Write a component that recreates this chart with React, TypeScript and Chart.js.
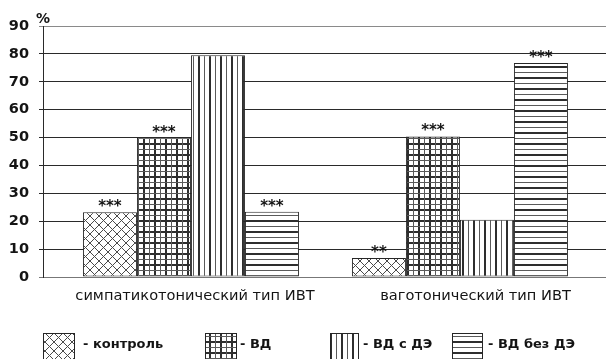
import React, { useEffect, useRef } from 'react';
import { Chart, registerables } from 'chart.js';

Chart.register(...registerables);

// Categories and series values (%)
const categories = ['симпатикотонический тип ИВТ', 'ваготонический тип ИВТ'];
const seriesNames = ['- контроль', '- ВД', '- ВД с ДЭ', '- ВД без ДЭ'];
const control = [23.2, 6.8];
const vd = [50, 50.4];
const vdWithDe = [79.5, 20.5];
const vdWithoutDe = [23.4, 76.7];

// Significance marks shown above the bars
const controlMarks = ['***', '**'];
const vdMarks = ['***', '***'];
const vdWithDeMarks = ['', ''];
const vdWithoutDeMarks = ['***', '***'];

// Value axis
const yMin = 0;
const yMax = 90;
const yStep = 10;
const yUnit = '%';

const FONT = "'DejaVu Sans', 'Liberation Sans', Arial, sans-serif";
const INK = '#141414';

function makePattern(draw: (c: CanvasRenderingContext2D) => void, w: number, h: number): CanvasPattern | string {
  const cv = document.createElement('canvas');
  cv.width = w;
  cv.height = h;
  const c = cv.getContext('2d');
  if (!c) return '#fff';
  c.fillStyle = '#ffffff';
  c.fillRect(0, 0, w, h);
  draw(c);
  const p = c.createPattern(cv, 'repeat');
  return p || '#fff';
}

function crossHatch() {
  return makePattern((c) => {
    c.strokeStyle = '#4a4a4a';
    c.lineWidth = 1;
    c.beginPath();
    c.moveTo(0, 0);
    c.lineTo(9, 9);
    c.moveTo(9, 0);
    c.lineTo(0, 9);
    c.stroke();
  }, 9, 9);
}

function squareGrid() {
  return makePattern((c) => {
    c.fillStyle = '#2e2e2e';
    c.fillRect(0, 0, 2, 11);
    c.fillRect(0, 0, 11, 2);
    c.fillStyle = '#5a5a5a';
    c.fillRect(6, 0, 1, 11);
    c.fillRect(0, 6, 11, 1);
  }, 11, 11);
}

function verticalStripes() {
  return makePattern((c) => {
    c.fillStyle = '#2e2e2e';
    c.fillRect(0, 0, 2, 11);
    c.fillStyle = '#5a5a5a';
    c.fillRect(6, 0, 1, 11);
  }, 11, 11);
}

function horizontalStripes() {
  return makePattern((c) => {
    c.fillStyle = '#2e2e2e';
    c.fillRect(0, 0, 11, 2);
    c.fillStyle = '#5a5a5a';
    c.fillRect(0, 6, 11, 1);
  }, 11, 11);
}

// Slight shift of the category captions relative to the bar groups
const captionShift = [0.015, 0.058];

export default function App() {
  const canvasRef = useRef<HTMLCanvasElement | null>(null);

  useEffect(() => {
    document.body.style.margin = '0';
    const canvas = canvasRef.current;
    if (!canvas) return;

    const fills = [crossHatch(), squareGrid(), verticalStripes(), horizontalStripes()];
    const values = [control, vd, vdWithDe, vdWithoutDe];
    const marks = [controlMarks, vdMarks, vdWithDeMarks, vdWithoutDeMarks];

    const datasets = values.map((vals, i) => ({
      label: seriesNames[i],
      data: vals.map((v, j) => ({ x: j, y: v })),
      backgroundColor: fills[i] as any,
      borderColor: '#262626',
      borderWidth: 1,
      borderSkipped: false as const,
      categoryPercentage: 0.803,
      barPercentage: 1,
    }));

    const marksPlugin = {
      id: 'marks',
      afterDatasetsDraw(chart: any) {
        const ctx = chart.ctx;
        ctx.save();
        ctx.fillStyle = INK;
        ctx.font = `bold 15px ${FONT}`;
        ctx.textAlign = 'center';
        ctx.textBaseline = 'alphabetic';
        chart.data.datasets.forEach((_: any, di: number) => {
          const meta = chart.getDatasetMeta(di);
          meta.data.forEach((bar: any, j: number) => {
            const t = marks[di][j];
            if (t) ctx.fillText(t, bar.x, bar.y - 1);
          });
        });
        ctx.restore();
      },
    };

    const legendBoxes = [
      { box: 43, w: 32, text: 83 },
      { box: 205, w: 32, text: 240 },
      { box: 330, w: 29, text: 363 },
      { box: 452, w: 31, text: 488 },
    ];

    const extrasPlugin = {
      id: 'extras',
      afterDraw(chart: any) {
        const ctx = chart.ctx;
        ctx.save();
        // unit caption above the value axis
        ctx.fillStyle = INK;
        ctx.font = `bold 14px ${FONT}`;
        ctx.textAlign = 'left';
        ctx.textBaseline = 'alphabetic';
        ctx.fillText(yUnit, chart.chartArea.left - 7, 23);

        // legend
        chart.data.datasets.forEach((ds: any, i: number) => {
          const it = legendBoxes[i];
          ctx.fillStyle = ds.backgroundColor;
          ctx.fillRect(it.box, 333, it.w, 27);
          ctx.strokeStyle = '#262626';
          ctx.lineWidth = 1;
          ctx.strokeRect(it.box + 0.5, 333.5, it.w - 1, 27);
          ctx.fillStyle = INK;
          ctx.font = `bold 13px ${FONT}`;
          ctx.textBaseline = 'middle';
          ctx.fillText(ds.label, it.text, 345);
        });
        ctx.restore();
      },
    };

    const chart = new Chart(canvas, {
      type: 'bar',
      data: { datasets: datasets as any },
      plugins: [marksPlugin, extrasPlugin],
      options: {
        responsive: false,
        animation: false,
        devicePixelRatio: 1,
        layout: { padding: { top: 26, left: 0, right: 0, bottom: 0 } },
        plugins: {
          legend: { display: false },
          tooltip: { enabled: false },
          title: { display: false },
        },
        scales: {
          x: {
            type: 'linear',
            min: -0.55,
            max: 1.543,
            offset: false,
            grid: { display: false, drawTicks: false, offset: false },
            border: { display: false },
            afterBuildTicks: (scale: any) => {
              scale.ticks = categories.map((_, i) => ({ value: i + captionShift[i] }));
            },
            afterFit: (scale: any) => {
              scale.height = 82;
            },
            ticks: {
              autoSkip: false,
              maxRotation: 0,
              minRotation: 0,
              padding: 10,
              color: INK,
              font: { family: FONT, size: 14.6 },
              callback: (_v: any, i: number) => categories[i],
            },
          },
          y: {
            min: yMin,
            max: yMax,
            afterFit: (scale: any) => {
              scale.width = 43;
            },
            grid: {
              color: (c: any) => (c.tick && c.tick.value === yMax ? '#8a8a8a' : c.tick && c.tick.value === yMin ? '#777777' : '#2a2a2a'),
              lineWidth: 1,
              drawTicks: true,
              tickLength: 4,
            },
            border: { display: true, color: '#2a2a2a', width: 1 },
            ticks: {
              stepSize: yStep,
              padding: 10,
              color: INK,
              font: { family: FONT, size: 14.5, weight: 'bold' },
            },
          },
        },
      } as any,
    });

    return () => chart.destroy();
  }, []);

  return (
    <div style={{ width: 606, height: 359, background: '#fff' }}>
      <canvas ref={canvasRef} width={606} height={359} style={{ display: 'block' }} />
    </div>
  );
}
